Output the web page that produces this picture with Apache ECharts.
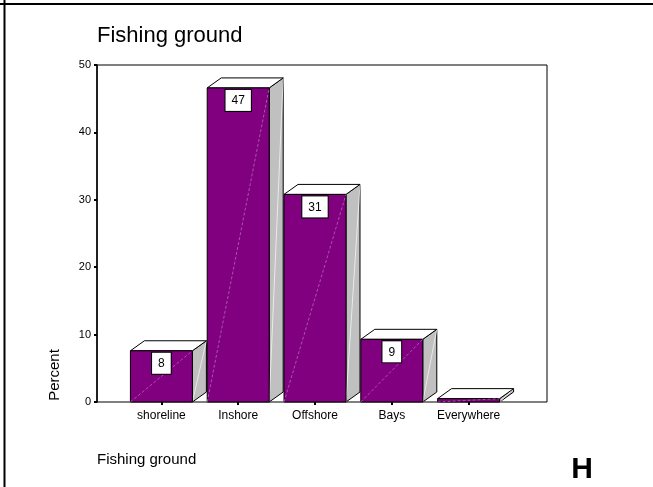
<!DOCTYPE html>
<html>
<head>
    <meta charset="UTF-8">
    <title>Fishing ground</title>
    <script src="https://cdn.jsdelivr.net/npm/echarts@6/dist/echarts.min.js"></script>
    <style>
        body {
            padding: 0;
            margin: 0;
            border: none;
            background: #fff;
        }
        #echart {
            width: 653px;
            height: 487px;
        }
    </style>
</head>
<body>
<div id="echart"></div>
<script>
    // data
    const categories = ['shoreline', 'Inshore', 'Offshore', 'Bays', 'Everywhere'];
    const percents = [7.6, 46.6, 30.8, 9.3, 0.5];
    const valueLabels = ['8', '47', '31', '9', ''];
    const yTicks = [0, 10, 20, 30, 40, 50];

    const FONT = '"Liberation Sans", Arial, sans-serif';
    const DX = 14, DY = 10; // fake 3d depth in px

    function renderBar(params, api) {
        let i = api.value(0);
        let v = api.value(1);
        let top = api.coord([i, v]);
        let base = api.coord([i, 0]);
        let band = api.size([1, 0])[0];
        let w = band * 0.807;
        let x0 = top[0] - w / 2, x1 = top[0] + w / 2;
        let yt = top[1], yb = base[1];
        let kids = [
            {
                type: 'polygon',
                shape: {points: [[x1, yt], [x1 + DX, yt - DY], [x1 + DX, yb - DY], [x1, yb]]},
                style: {fill: '#c0c0c0', stroke: '#000', lineWidth: 1}
            },
            {
                type: 'line',
                shape: {x1: x1, y1: yb, x2: x1 + DX, y2: yt - DY},
                style: {stroke: '#f4f4f4', lineWidth: 0.8}
            },
            {
                type: 'polygon',
                shape: {points: [[x0, yt], [x0 + DX, yt - DY], [x1 + DX, yt - DY], [x1, yt]]},
                style: {fill: '#fff', stroke: '#000', lineWidth: 1}
            },
            {
                type: 'rect',
                shape: {x: x0, y: yt, width: w, height: yb - yt},
                style: {fill: '#800080', stroke: '#000', lineWidth: 1}
            },
            {
                type: 'line',
                shape: {x1: x0, y1: yb, x2: x1, y2: yt},
                style: {stroke: '#c98ac9', lineWidth: 0.6, lineDash: [3, 2]}
            }
        ];
        let lab = valueLabels[params.dataIndex];
        if (lab) {
            kids.push({
                type: 'text',
                x: top[0],
                y: yt + 2,
                style: {
                    text: lab,
                    align: 'center',
                    verticalAlign: 'top',
                    fill: '#000',
                    font: '12px ' + FONT,
                    backgroundColor: '#fff',
                    borderColor: '#000',
                    borderWidth: 1,
                    padding: [5, 6, 4, 6]
                }
            });
        }
        return {type: 'group', children: kids};
    }

    function buildOption() {
        return {
            backgroundColor: '#fff',
            animation: false,
            textStyle: {fontFamily: FONT},
            grid: [
                {left: 97, top: 65, width: 450, height: 337, show: true, borderColor: '#000', borderWidth: 1, backgroundColor: 'transparent'},
                {left: 123, top: 65, width: 384, height: 337}
            ],
            xAxis: [
                {gridIndex: 0, type: 'value', min: 0, max: 1, show: false},
                {
                    gridIndex: 1,
                    type: 'category',
                    data: categories,
                    axisLine: {show: false},
                    axisTick: {show: true, alignWithLabel: true, interval: 0, length: 3, lineStyle: {color: '#000', width: 2}},
                    axisLabel: {color: '#000', fontSize: 12, margin: 8, interval: 0, fontFamily: FONT},
                    splitLine: {show: false}
                }
            ],
            yAxis: [
                {
                    gridIndex: 0,
                    type: 'value',
                    min: yTicks[0],
                    max: yTicks[yTicks.length - 1],
                    interval: 10,
                    axisLine: {show: true, lineStyle: {color: '#000', width: 1.5}},
                    axisTick: {show: true, length: 3, lineStyle: {color: '#000', width: 2}},
                    axisLabel: {color: '#000', fontSize: 11, margin: 6, fontFamily: FONT},
                    splitLine: {show: false}
                },
                {gridIndex: 1, type: 'value', min: 0, max: 50, show: false}
            ],
            graphic: [
                {type: 'line', shape: {x1: 0, y1: 4, x2: 653, y2: 4}, style: {stroke: '#000', lineWidth: 2}},
                {type: 'line', shape: {x1: 4.5, y1: 0, x2: 4.5, y2: 487}, style: {stroke: '#000', lineWidth: 2}},
                {type: 'text', x: 97, y: 36, style: {text: 'Fishing ground', font: '22px ' + FONT, fill: '#000', verticalAlign: 'middle'}},
                {type: 'text', x: 55, y: 375, rotation: Math.PI / 2, style: {text: 'Percent', font: '15px ' + FONT, fill: '#000', align: 'center', verticalAlign: 'middle'}},
                {type: 'text', x: 97, y: 460, style: {text: 'Fishing ground', font: '15px ' + FONT, fill: '#000', verticalAlign: 'middle'}},
                {type: 'text', x: 582, y: 470, style: {text: 'H', font: 'bold 30px ' + FONT, fill: '#000', align: 'center', verticalAlign: 'middle'}}
            ],
            series: [
                {
                    type: 'custom',
                    xAxisIndex: 1,
                    yAxisIndex: 1,
                    renderItem: renderBar,
                    data: percents.map((v, i) => [i, v])
                }
            ]
        };
    }

    window.onload = function () {
        let ec = echarts.init(document.getElementById('echart'));
        ec.setOption(buildOption(), true);
    };
</script>
</body>
</html>
